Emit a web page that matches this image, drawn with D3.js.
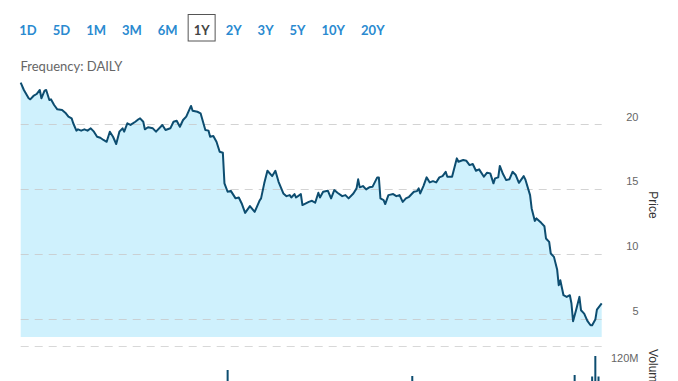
<!DOCTYPE html>
<html><head><meta charset="utf-8">
<script src="https://cdn.jsdelivr.net/npm/d3@7"></script>
<style>body{margin:0;background:#fff;overflow:hidden} svg{display:block}</style>
</head><body>
<svg id="c" width="678" height="381"></svg>
<script>
const ranges = ["1D","5D","1M","3M","6M","1Y","2Y","3Y","5Y","10Y","20Y"];
const selectedRange = "1Y";
const frequency = "DAILY";
const priceDays = [0,2,5,6,8,10,12,13,15,16,18,19,21,23,26,28,30,32,33,35,36,38,40,42,44,46,48,50,52,54,56,58,60,62,64,65,67,69,72,74,75,77,78,80,83,85,89,91,94,96,98,100,102,104,107,108,111,113,
116,118,119,121,123,125,127,128,130,132,135,137,139,141,144,147,150,151,153,155,158,160,162,165,167,169,170,172,173,176,177,181,183,185,187,188,190,193,195,197,199,202,204,206,209,211,212,213,215,217,219,221,224,225,226,228,229,231,234,236,238,
240,242,244,247,249,250,251,253,255,257,259,261,263,265,267,268,271,274,275,278,280,282,284,286,288,291,293,295,297,298,300,301,303,305,307,309,311,313,316,317,320,321,323,324,327,329,330,332,333,335,337,338,339,341,343,345,346,347,349,351,352,354,356,358,359,361,362,365];
const priceValues = [23.22,22.65,22.01,21.93,22.19,22.34,22.65,22.01,22.60,22.65,21.88,21.93,21.49,21.16,21.11,20.90,20.59,20.46,20.08,19.51,19.61,19.51,19.61,19.51,19.69,19.43,19.04,18.96,18.79,18.65,19.43,19.04,18.48,19.43,19.69,19.43,20.08,19.95,20.20,20.39,20.46,20.20,19.61,19.77,19.69,19.43,19.95,19.56,19.69,20.20,20.28,19.81,20.33,20.59,21.42,21.05,20.97,20.85,
19.56,19.51,19.04,19.10,18.65,17.88,17.80,15.44,14.79,14.86,14.28,14.35,13.84,13.16,13.68,13.24,14.09,14.28,15.44,16.41,16.00,16.41,15.56,14.66,14.45,14.53,14.35,14.61,14.35,14.61,13.76,14.01,14.09,13.94,14.71,14.35,14.79,14.86,14.28,14.92,14.71,14.45,14.53,14.28,14.66,15.05,15.75,15.13,15.23,14.97,15.13,15.17,15.90,15.90,14.28,14.15,13.84,14.53,14.61,14.45,14.53,
14.01,14.28,14.40,14.79,14.84,15.05,14.66,15.23,15.90,15.51,15.61,15.51,15.90,16.00,16.33,15.95,15.95,17.37,17.11,17.24,17.18,16.85,16.93,16.41,16.52,15.95,16.26,16.21,15.44,15.82,15.90,16.78,16.16,15.69,15.75,16.33,16.08,15.48,16.00,15.75,14.53,13.50,12.54,12.73,12.39,12.13,11.18,10.92,10.02,9.76,8.79,7.57,7.96,6.80,6.67,6.80,6.16,4.79,5.69,6.67,5.64,5.38,4.81,4.48,4.48,4.92,5.69,6.16];
const priceTicks = [5,10,15,20];
const volumeDays = [130,246,348,359,361,363];
const volumeValues = [110e6,98e6,100e6,97e6,138e6,97e6];
const volumeTicks = [120e6];

const svg = d3.select("#c");
const x = d3.scaleLinear().domain([0,365]).range([20.7,601.7]);
const y = d3.scaleLinear().domain([5,20]).range([318.5,124.3]);
const plotBottom = 337;
const yv = d3.scaleLinear().domain([0,120e6]).range([425,365]);

const data = priceDays.map((d,i)=>({d, v: priceValues[i]}));

// area
svg.append("path").datum(data)
  .attr("fill","#cff1fd")
  .attr("d", d3.area().x(p=>x(p.d)).y0(plotBottom).y1(p=>y(p.v)));

// gridlines
const yAxis = d3.axisRight(y).tickValues(priceTicks).tickSize(0).tickFormat(d3.format("d"));
svg.selectAll("line.grid").data(priceTicks).enter().append("line")
  .attr("x1",20.7).attr("x2",601.7)
  .attr("y1",d=>Math.round(y(d))+0.5).attr("y2",d=>Math.round(y(d))+0.5)
  .attr("stroke","#c8c8c8").attr("stroke-opacity",0.8).attr("stroke-dasharray","8,6");
svg.append("line").attr("x1",20.7).attr("x2",601.7).attr("y1",346.5).attr("y2",346.5)
  .attr("stroke","#d8d8d8").attr("stroke-dasharray","8,6");

// line
svg.append("path").datum(data)
  .attr("fill","none").attr("stroke","#0d4d70").attr("stroke-width",2).attr("stroke-linejoin","round")
  .attr("d", d3.line().x(p=>x(p.d)).y(p=>y(p.v)));

// price axis labels
const gy = svg.append("g").attr("transform","translate(638.5,0)").call(yAxis);
gy.select(".domain").remove();
gy.selectAll("text").attr("x",0).attr("dy",0).attr("dx",0)
  .attr("y",-3.6).attr("text-anchor","end")
  .attr("fill","#666").style("font-family","'Liberation Sans', Arial, sans-serif").style("font-size","11px");
gy.selectAll(".tick").attr("transform", d=>`translate(0,${y(d)})`);
gy.selectAll(".tick text").attr("dominant-baseline","auto");

// volume bars
svg.append("g").selectAll("rect").data(volumeDays).enter().append("rect")
  .attr("x",(d)=>x(d)-1).attr("width",2)
  .attr("y",(d,i)=>yv(volumeValues[i])).attr("height",(d,i)=>yv(0)-yv(volumeValues[i]))
  .attr("fill","#0d4d70");

// volume label
const vAxis = d3.axisRight(yv).tickValues(volumeTicks).tickSize(0).tickFormat(d=>d3.format("d")(d/1e6)+"M");
const gv = svg.append("g").attr("transform","translate(638.5,0)").call(vAxis);
gv.select(".domain").remove();
gv.selectAll("text").attr("x",0).attr("dy",0).attr("y",-3.6).attr("text-anchor","end")
  .attr("fill","#666").style("font-family","'Liberation Sans', Arial, sans-serif").style("font-size","11px");

// axis titles
svg.append("text").attr("transform","translate(649,205) rotate(90)").attr("text-anchor","middle")
  .style("font-family","'Liberation Sans', Arial, sans-serif").style("font-size","12px").attr("fill","#333").text("Price");
svg.append("text").attr("transform","translate(649,349) rotate(90)").attr("text-anchor","start")
  .style("font-family","'Liberation Sans', Arial, sans-serif").style("font-size","12px").attr("fill","#333").text("Volume");

// range buttons
let bx = 19.3;
const bg = svg.append("g");
ranges.forEach(r=>{
  const t = bg.append("text").attr("x",bx).attr("y",34.5)
    .style("font-family","Lato, sans-serif").style("font-size","13px").style("font-weight","bold")
    .attr("fill", r===selectedRange ? "#444" : "#2a8ad0").text(r);
  const w = t.node().getComputedTextLength();
  if (r===selectedRange) {
    bg.append("rect").attr("x",bx-5.5).attr("y",14.5).attr("width",w+11).attr("height",26.5)
      .attr("fill","none").attr("stroke","#555").attr("stroke-width",1);
  }
  bx += w + 16;
});

svg.append("text").attr("x",20.5).attr("y",71)
  .style("font-family","Lato, sans-serif").style("font-size","13px").attr("fill","#666")
  .text("Frequency: " + frequency);
</script>
</body></html>
